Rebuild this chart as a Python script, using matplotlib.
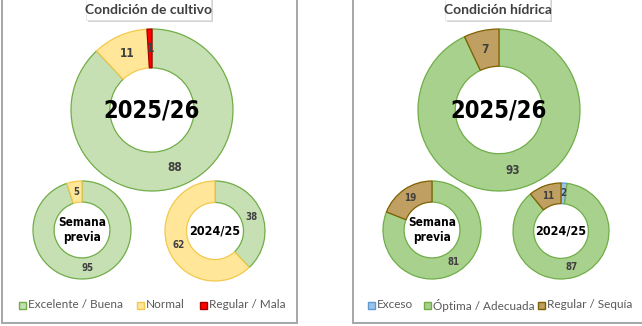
import matplotlib
matplotlib.use("Agg")
import matplotlib.pyplot as plt
from matplotlib.patches import Rectangle

# ---- data -------------------------------------------------------------
cult_labels = ["Excelente / Buena", "Normal", "Regular / Mala"]
cult_actual = [88, 11, 1]        # 2025/26
cult_prev_week = [95, 5, 0]      # Semana previa
cult_last_year = [38, 62, 0]     # 2024/25

hid_labels = ["Exceso", "Óptima / Adecuada", "Regular / Sequía"]
hid_actual = [0, 93, 7]
hid_prev_week = [0, 81, 19]
hid_last_year = [2, 87, 11]

panel_titles = ["Condición de cultivo", "Condición hídrica"]
center_labels = ["2025/26", "Semana\nprevia", "2024/25"]

# ---- styles -------------------------------------------------------------
cult_colors = ["#C6E0B4", "#FFE699", "#FF0000"]
cult_edges = ["#70AD47", "#F2C94C", "#A50000"]
hid_colors = ["#9DC3E6", "#A9D18E", "#BF9F62"]
hid_edges = ["#5B9BD5", "#70AD47", "#7F6000"]

W, H = 642, 326
fig = plt.figure(figsize=(W / 100, H / 100), dpi=100)
ax = fig.add_axes([0, 0, 1, 1])

COND = dict(family="DejaVu Sans", fontstretch="condensed", weight="bold")


def Y(py):
    return H - py


def donut(values, colors, edges, cx, cy, r, inner, fs):
    vals, cols, eds = [], [], []
    for v, c, e in zip(values, colors, edges):
        if v > 0:
            vals.append(v); cols.append(c); eds.append(e)
    wedges, _, autotexts = ax.pie(
        vals, colors=cols, radius=r, center=(cx, Y(cy)),
        startangle=90, counterclock=False,
        autopct=lambda p: f"{p:.0f}", pctdistance=(1 + inner) / 2,
        wedgeprops=dict(width=r * (1 - inner), linewidth=0.9),
        textprops=dict(color="#404040", fontsize=fs, **COND),
    )
    for w, e in zip(wedges, eds):
        w.set_edgecolor(e)
    return wedges


def title_box(text, x0, x1):
    ax.add_patch(Rectangle((x0 + 2, Y(22)), x1 - x0, 30, facecolor="#C8C8C8",
                           edgecolor="none", alpha=0.8, zorder=4))
    ax.add_patch(Rectangle((x0, Y(20)), x1 - x0, 30, facecolor="white",
                           edgecolor="#E0E0E0", linewidth=0.5, zorder=5))
    ax.text((x0 + x1) / 2, Y(10.5), text, ha="center", va="center",
            fontsize=10, color="#404040", family="Lato", weight="bold",
            zorder=6)


def panel_frame(x0, x1):
    ax.plot([x0, x0, x1, x1], [H + 5, Y(323), Y(323), H + 5],
            color="#A6A6A6", linewidth=1.4, solid_joinstyle="miter")


def legend(labels, colors, edges, xs, y):
    # square key followed by its label, one entry per series
    for lab, c, e, x in zip(labels, colors, edges, xs):
        ax.add_patch(Rectangle((x, Y(y) - 3.5), 7, 7, facecolor=c,
                               edgecolor=e, linewidth=1))
        ax.text(x + 9, Y(y), lab, ha="left", va="center", fontsize=8.5,
                family="Lato", color="#595959")


# ---- left panel: crop condition ----------------------------------------
panel_frame(2, 297)
donut(cult_actual, cult_colors, cult_edges, 152, 110, 81, 0.52, 8.5)
donut(cult_prev_week, cult_colors, cult_edges, 82, 230, 49, 0.57, 7)
donut(cult_last_year, cult_colors, cult_edges, 215, 231, 50, 0.57, 7)
title_box(panel_titles[0], 86, 211)
legend(cult_labels, cult_colors, cult_edges, [19, 137, 200], 305)

# ---- right panel: soil moisture ----------------------------------------
panel_frame(353, 650)
donut(hid_actual, hid_colors, hid_edges, 499, 110, 81, 0.54, 8.5)
donut(hid_prev_week, hid_colors, hid_edges, 432, 230, 49, 0.57, 7)
donut(hid_last_year, hid_colors, hid_edges, 561, 231, 48, 0.57, 7)
title_box(panel_titles[1], 445, 550)
legend(hid_labels, hid_colors, hid_edges, [368, 424, 538], 305)

# ---- centre captions -----------------------------------------------------
for cx in (152, 499):
    ax.text(cx, Y(111), center_labels[0], ha="center", va="center",
            fontsize=17, color="black", **COND)
for cx in (82, 432):
    ax.text(cx, Y(230), center_labels[1], ha="center", va="center",
            fontsize=8.5, color="black", linespacing=1.15, **COND)
for cx in (215, 561):
    ax.text(cx, Y(231), center_labels[2], ha="center", va="center",
            fontsize=9, color="black", **COND)

ax.set_xlim(0, W)
ax.set_ylim(0, H)
ax.set_aspect("equal")
ax.axis("off")
fig.savefig("out.png", dpi=100, facecolor="white")
